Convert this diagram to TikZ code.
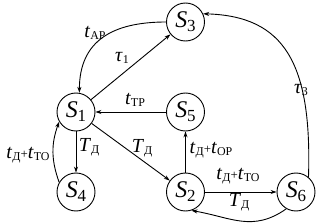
\documentclass[tikz,border=0pt]{standalone}
\usepackage{fontspec}
\setmainfont{Liberation Serif}
\usetikzlibrary{arrows.meta}
\newcommand{\stt}[1]{\fontsize{24}{24}\selectfont\textit{S}\raisebox{-4pt}{\fontsize{17}{17}\selectfont #1}}
\newcommand{\lbl}[2]{\textit{#1}\raisebox{-2.5pt}{\fontsize{12}{12}\selectfont #2}}
\newcommand{\pls}{{\fontsize{13}{13}\selectfont +}}
\begin{document}
\begin{tikzpicture}[x=1bp,y=1bp,
  state/.style={circle,draw,line width=0.9bp,minimum size=38bp,inner sep=0pt},
  conn/.style={line width=0.9bp,-{Stealth[length=6bp,width=4bp]}},
  lab/.style={inner sep=0pt,font=\fontsize{20}{20}\selectfont}]
\useasboundingbox (0,0) rectangle (317,224);
\node[state] (S3) at (185.5,202) {\stt{3}};
\node[state] (S1) at (76,112) {\stt{1}};
\node[state] (S5) at (185.5,112) {\stt{5}};
\node[state] (S4) at (76,32) {\stt{4}};
\node[state] (S2) at (185.5,32) {\stt{2}};
\node[state] (S6) at (296,32) {\stt{6}};
\draw[conn] (S3.west) to[out=180,in=90,looseness=1.2] (S1.80);
\draw[conn] (S1) -- (S3);
\draw[conn] (S5) -- (S1);
\draw[conn] (S1) -- (S4);
\draw[conn] (S4.150) to[out=110,in=250] (S1.210);
\draw[conn] (S1) -- (S2);
\draw[conn] (S2) -- (S5);
\draw[conn] (S2) -- (S6);
\draw[conn] (S6.240) to[out=215,in=-10,looseness=1.1] (S2.288);
\draw[conn] (S6.50) .. controls (312,160) and (285,208) .. (S3.25);
\node[lab] (lAP) at (95,191) {\lbl{t}{АР}};
\node[lab] (lt1) at (122,166) {\lbl{τ}{1}};
\node[lab] (lTP) at (135,124) {\lbl{t}{ТР}};
\node[lab] (lT14) at (89,77) {\lbl{T}{Д}};
\node[lab] (lTO4) at (28,69) {\lbl{t}{Д}\pls\lbl{t}{ТО}};
\node[lab] (lT12) at (142,76) {\lbl{T}{Д}};
\node[lab] (lOP) at (211,74) {\lbl{t}{Д}\pls\lbl{t}{ОР}};
\node[lab] (lTO26) at (238,48) {\lbl{t}{Д}\pls\lbl{t}{ТО}};
\node[lab] (lT62) at (239,22) {\lbl{T}{Д}};
\node[lab] (lt3) at (301,134) {\lbl{τ}{3}};
\end{tikzpicture}
\end{document}
